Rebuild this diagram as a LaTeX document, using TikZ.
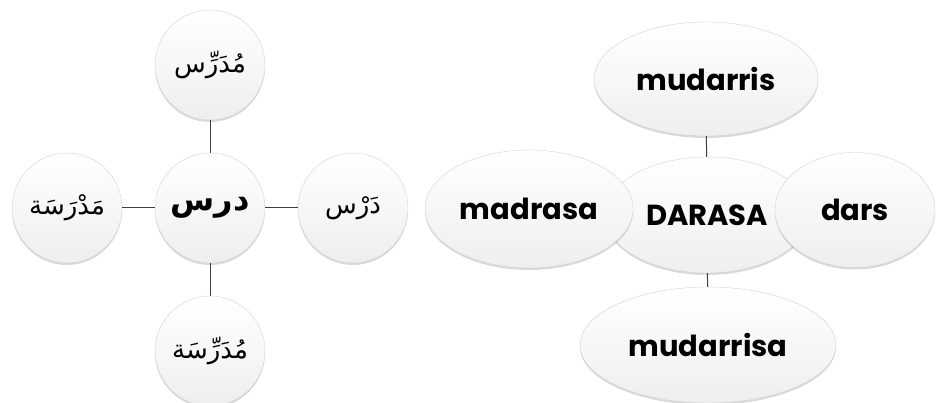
\documentclass[tikz,border=0pt]{standalone}
\usepackage{fontspec}
\setmainfont{Poppins}
\newfontfamily\arabicfont[Script=Arabic]{DejaVu Sans}
\TeXXeTstate=1
\usetikzlibrary{shapes.geometric,shadows,positioning}

\tikzset{
  bubble/.style={draw=gray!35,thin,top color=white,middle color=white,bottom color=gray!13,
    drop shadow={opacity=0.3,shadow xshift=0pt,shadow yshift=-2pt}},
  ring/.style={bubble,circle,minimum size=110pt,inner sep=0pt,
    font=\arabicfont\fontsize{26}{30}\selectfont},
  blob/.style={bubble,ellipse,inner sep=0pt,
    font=\bfseries\fontsize{29}{34}\selectfont}
}

\begin{document}
\begin{tikzpicture}[-,semithick,x=1pt,y=-1pt,node distance=143pt]
  \useasboundingbox (0,0) rectangle (937,403);
  % arabic roots
  \node[ring,font=\arabicfont\bfseries\fontsize{32}{36}\selectfont] (drs) at (210,208) {\beginR درس\endR};
  \node[ring] (mudarris)  [above of=drs] {\beginR مُدَرِّس\endR};
  \node[ring] (mudarrisa) [below of=drs] {\beginR مُدَرِّسَة\endR};
  \node[ring] (madrasa)   [left of=drs]  {\beginR مَدْرَسَة\endR};
  \node[ring] (dars)      [right of=drs] {\beginR دَرْس\endR};
  % transliteration
  \node[blob,minimum width=204pt,minimum height=116pt] (darasa) at (707,215) {DARASA};
  \node[blob,minimum width=224pt,minimum height=114pt] (tmudarris) at (706,79) {mudarris};
  \node[blob,minimum width=256pt,minimum height=116pt] (tmudarrisa) at (708,345) {mudarrisa};
  \node[blob,minimum width=208pt,minimum height=118pt] (tmadrasa) at (529,209) {madrasa};
  \node[blob,minimum width=160pt,minimum height=115pt] (tdars) at (855,210) {dars};
  \path[draw=black!75,line width=1pt]
(drs) edge (mudarris)
(drs) edge (mudarrisa)
(drs) edge (madrasa)
(drs) edge (dars)
(darasa) edge (tmudarris)
(darasa) edge (tmudarrisa)
;
\end{tikzpicture}
\end{document}
